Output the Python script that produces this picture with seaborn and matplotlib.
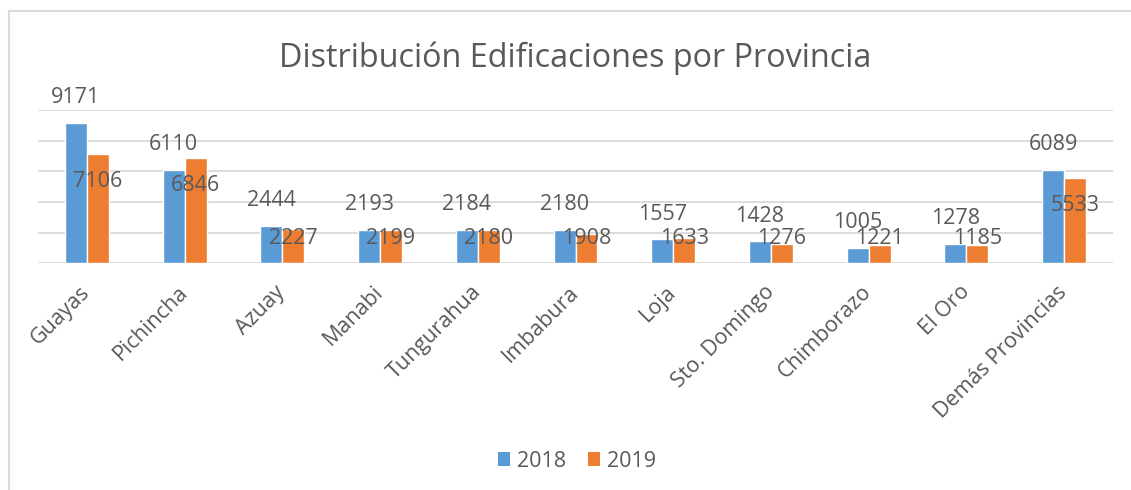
import numpy as np
import pandas as pd
import matplotlib
matplotlib.use('Agg')
import matplotlib.pyplot as plt
from matplotlib.lines import Line2D
from matplotlib.patches import Patch
import seaborn as sns

# Data
provincias = ['Guayas', 'Pichincha', 'Azuay', 'Manabi', 'Tungurahua', 'Imbabura',
              'Loja', 'Sto. Domingo', 'Chimborazo', 'El Oro', 'Demás Provincias']
valores_2018 = [9171, 6110, 2444, 2193, 2184, 2180, 1557, 1428, 1005, 1278, 6089]
valores_2019 = [7106, 6846, 2227, 2199, 2180, 1908, 1633, 1276, 1221, 1185, 5533]
anios = ['2018', '2019']

colores = ['#5B9BD5', '#ED7D31']
gris = '#595959'

df = pd.DataFrame({
    'Provincia': provincias * 2,
    'Valor': valores_2018 + valores_2019,
    'Anio': ['2018'] * len(provincias) + ['2019'] * len(provincias),
})

sns.set_style('white')
plt.rcParams['font.family'] = ['Open Sans', 'DejaVu Sans']

fig = plt.figure(figsize=(11.31, 4.90), dpi=100)
ax = fig.add_axes([38 / 1131, 1 - 263.3 / 490, (1113 - 38) / 1131, (263.3 - 110) / 490])

sns.barplot(data=df, x='Provincia', y='Valor', hue='Anio', hue_order=anios,
            palette=colores, width=0.45, saturation=1, ax=ax, legend=False)

ax.set_ylim(0, 10000)
ax.set_yticks(np.arange(0, 10001, 2000))
ax.yaxis.grid(True, color='#D9D9D9', linewidth=1.3)
ax.set_axisbelow(True)
ax.set_yticklabels([])
ax.set_xlabel('')
ax.set_ylabel('')
for s in ax.spines.values():
    s.set_visible(False)
ax.tick_params(left=False, bottom=False, axis='x', pad=15)
ax.set_xticks(range(len(provincias)))
ax.set_xticklabels(provincias, rotation=45, ha='right', va='center',
                   rotation_mode='anchor', fontsize=15.5, color=gris)

# Data labels (2018 above the bar, 2019 overlapping the bar)
for i, cont in enumerate(ax.containers):
    vals = valores_2018 if i == 0 else valores_2019
    for bar, v in zip(cont, vals):
        xc = bar.get_x() + bar.get_width() / 2
        if i == 0:
            y = v + 1630
        else:
            y = max(v - 1760, 1630)
        ax.text(xc, y, str(v), ha='center', va='center', fontsize=15.5, color=gris)

# Title
fig.text(0.509, 1 - 67 / 490, 'Distribución Edificaciones por Provincia',
         ha='center', va='baseline', fontsize=23.3, color=gris)

# Legend
handles = [Patch(facecolor=c, edgecolor='none', label=a) for c, a in zip(colores, anios)]
fig.legend(handles=handles, loc='center', bbox_to_anchor=(0.51, 1 - 461 / 490),
           ncol=2, frameon=False, fontsize=15.5, labelcolor=gris,
           handlelength=0.6, handleheight=0.6, handletextpad=0.3, columnspacing=1.0)

# Chart frame
fig.add_artist(Line2D([8.5 / 1131, 8.5 / 1131], [0, 1 - 11 / 490], color='#D9D9D9', lw=1.5,
                      transform=fig.transFigure))
fig.add_artist(Line2D([8.5 / 1131, 1], [1 - 11 / 490, 1 - 11 / 490], color='#D9D9D9', lw=1.5,
                      transform=fig.transFigure))

fig.savefig('out.png', dpi=100)
